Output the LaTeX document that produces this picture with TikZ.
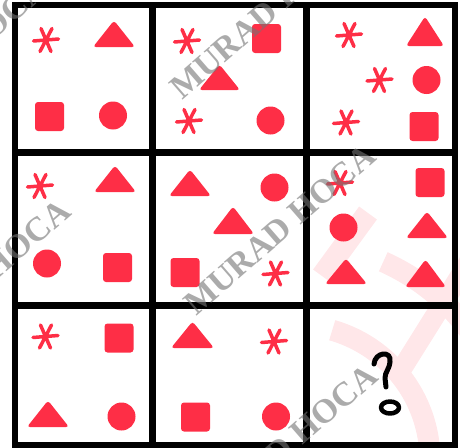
\documentclass[tikz,border=0pt]{standalone}
\usepackage{fontspec}
\setmainfont{Liberation Serif}
\definecolor{shred}{RGB}{254,46,70}
\definecolor{pinklogo}{RGB}{255,231,233}
\tikzset{
  astk/.style={draw=shred, line width=3.5pt, line cap=round},
  outerline/.style={line width=6pt, black},
  innerline/.style={line width=7pt, black},
  wm/.style={text=black!55, opacity=0.6, font=\fontsize{34}{34}\selectfont\bfseries, inner sep=0pt, rotate=41},
  logo/.style={draw=pinklogo, line width=21pt},
  qmark/.style={draw=black, line width=5pt, line cap=round, line join=round},
}
\newcommand\shCirc[2]{\fill[shred] (#1,#2) circle[radius=14];}
\newcommand\shSq[2]{\fill[shred, rounded corners=3pt] ({#1-14.5},{#2-14.5}) rectangle ({#1+14.5},{#2+14.5});}
\newcommand\shTri[4]{\fill[shred, rounded corners=3pt] ({#1-#4-2},{#3}) -- (#1,{#2-2.5}) -- ({#1+#4+2},{#3}) -- cycle;}
\newcommand\shAst[2]{\draw[astk] ({#1-12.5},{#2+1}) -- ({#1+12.5},{#2-1}) ({#1-5},{#2-11.5}) -- ({#1+5},{#2+11.5}) ({#1+6},{#2-11.5}) -- ({#1-6},{#2+11.5});}
\begin{document}
\begin{tikzpicture}[x=1pt, y=-1pt]
\useasboundingbox (0,0) rectangle (460,447);
% faint logo
\begin{scope}
\clip (0,0) rectangle (460,447);
\draw[logo] plot[domain=-74:0, samples=40] ({295+135*cos(\x)},{460+135*sin(\x)});
\draw[logo] plot[domain=-66:-30, samples=40] ({295+217*cos(\x)},{460+217*sin(\x)});
\draw[logo, line width=20pt] (470,260) -- (398,375);
\draw[logo, line width=22pt] (368,213) -- (322,276);
\end{scope}
% row 1
\shAst{46}{40} \shTri{114}{23}{47}{19} \shSq{49.5}{116.5} \shCirc{113}{115.5}
\shAst{187}{41} \shSq{266.5}{38.5} \shTri{219.5}{67}{90}{18.5} \shAst{189}{121} \shCirc{270.5}{120.5}
\shAst{349}{35} \shTri{425}{19}{46}{17} \shAst{379.5}{80} \shCirc{426.5}{80} \shAst{346}{122.5} \shSq{424}{126.5}
% row 2
\shAst{40}{186} \shTri{115}{168}{192}{19} \shCirc{47}{263.5} \shSq{117.5}{267.5}
\shTri{190}{172}{196}{19} \shCirc{274.5}{187.5} \shTri{233}{209}{234}{19} \shSq{185}{272.5} \shAst{275.5}{273.5}
\shAst{340}{183} \shSq{430}{182.5} \shCirc{343.5}{227.5} \shTri{427}{214}{238}{19} \shTri{346}{261}{284}{19} \shTri{425.5}{262}{287}{18.5}
% row 3
\shAst{45.5}{336.5} \shSq{119}{338} \shTri{48}{403}{427}{19} \shCirc{121.5}{416.5}
\shTri{192.5}{324}{348}{19.5} \shAst{274}{341.5} \shSq{195.5}{417} \shCirc{276}{416.5}
% question mark
\draw[qmark] (374,364) .. controls (375,352) and (392,350) .. (390,362) .. controls (389,370) and (385,372) .. (385,378) -- (386,387);
\draw[qmark, line width=4.5pt] (390,407.5) ellipse[x radius=9, y radius=6];
% grid
\draw[outerline] (15,5) rectangle (454.5,444.5);
\draw[innerline] (152,5) -- (152,444.5) (306.5,5) -- (306.5,444.5) (15,152) -- (454.5,152) (15,305) -- (454.5,305);
% watermark
\begin{scope}
\clip (0,0) rectangle (460,447);
\node[wm, anchor=base east] (wm0) at (50,-8) {MURAD HOCA};
\node[wm, anchor=base west] (wm1) at (182,101) {MURAD HOCA};
\node[wm, anchor=base east] (wm3) at (73,214) {MURAD HOCA};
\node[wm, anchor=base west] (wm2) at (196,317) {MURAD HOCA};
\node[wm, anchor=base west] (wm4) at (198,537) {MURAD HOCA};
\end{scope}
\end{tikzpicture}
\end{document}
